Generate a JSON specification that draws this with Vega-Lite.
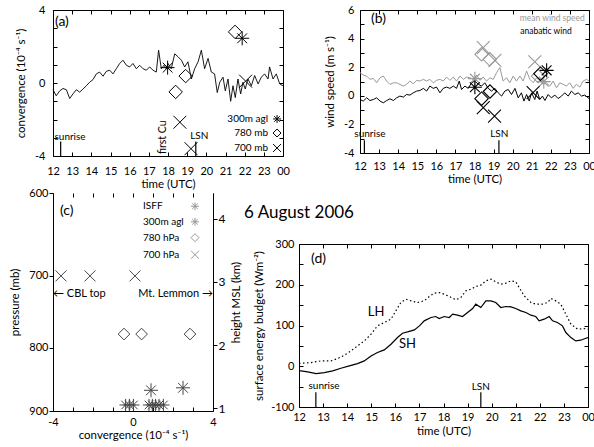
{
"$schema": "https://vega.github.io/schema/vega-lite/v6.json",
"padding": {"left": 9, "top": 3, "right": 0, "bottom": 0},
"spacing": -3,
"config": {
  "font": "Lato",
  "view": {"stroke": "black", "strokeWidth": 1},
  "axis": {"grid": false, "domain": false, "tickColor": "black", "tickSize": -4, "tickWidth": 1, "labelFont": "Lato", "labelFontSize": 11, "labelColor": "black", "labelOverlap": false, "labelFlush": false, "titleFont": "Lato", "titleFontSize": 11.5, "titleFontWeight": "normal", "titleColor": "black", "labelPadding": 12, "titlePadding": 4},
  "text": {"font": "Lato"},
  "title": {"font": "Lato", "fontWeight": "normal", "color": "black"}
},
"datasets": {
  "a_line": [
    {"t":12.0,"v":-0.37},{"t":12.17,"v":-0.7},{"t":12.35,"v":-0.43},{"t":12.52,"v":-0.3},{"t":12.7,"v":-0.37},{"t":12.87,"v":-0.85},{"t":13.04,"v":-0.6},{"t":13.22,"v":-0.37},{"t":13.39,"v":-0.5},{"t":13.57,"v":-0.33},{"t":13.74,"v":-0.15},{"t":13.91,"v":0.04},{"t":14.09,"v":0.19},{"t":14.26,"v":0.5},{"t":14.43,"v":0.6},{"t":14.61,"v":0.37},{"t":14.78,"v":0.64},{"t":14.96,"v":0.7},{"t":15.13,"v":0.5},{"t":15.3,"v":0.78},{"t":15.48,"v":1.07},{"t":15.65,"v":1.25},{"t":15.83,"v":0.97},{"t":16.0,"v":0.88},{"t":16.17,"v":1.07},{"t":16.35,"v":0.78},{"t":16.52,"v":0.97},{"t":16.7,"v":0.78},{"t":16.87,"v":0.7},{"t":17.04,"v":0.88},{"t":17.22,"v":0.7},{"t":17.39,"v":0.6},{"t":17.51,"v":1.8},{"t":17.65,"v":0.78},{"t":17.79,"v":0.97},{"t":17.91,"v":0.78},{"t":18.0,"v":1.07},{"t":18.17,"v":0.78},{"t":18.35,"v":1.6},{"t":18.52,"v":1.44},{"t":18.7,"v":1.25},{"t":18.87,"v":0.88},{"t":19.04,"v":1.16},{"t":19.22,"v":0.22},{"t":19.39,"v":0.78},{"t":19.57,"v":1.16},{"t":19.74,"v":1.8},{"t":19.91,"v":0.78},{"t":20.09,"v":1.35},{"t":20.26,"v":0.6},{"t":20.43,"v":0.5},{"t":20.57,"v":-0.52},{"t":20.7,"v":0.04},{"t":20.87,"v":0.32},{"t":20.99,"v":-0.43},{"t":21.13,"v":0.22},{"t":21.27,"v":-1.0},{"t":21.39,"v":-0.15},{"t":21.51,"v":-0.8},{"t":21.65,"v":0.22},{"t":21.79,"v":-0.6},{"t":21.91,"v":0.04},{"t":22.03,"v":-0.33},{"t":22.17,"v":0.22},{"t":22.35,"v":-0.15},{"t":22.52,"v":0.41},{"t":22.7,"v":-0.05},{"t":22.87,"v":0.32},{"t":23.04,"v":0.5},{"t":23.22,"v":0.22},{"t":23.3,"v":0.88},{"t":23.48,"v":0.22},{"t":23.65,"v":0.5},{"t":23.83,"v":-0.05},{"t":24.0,"v":-0.15}
  ],
  "a_markers": [
    {"t":17.98,"v":0.84,"level":"300m agl"},{"t":21.87,"v":2.45,"level":"300m agl"},
    {"t":18.4,"v":-0.49,"level":"780 mb"},{"t":18.92,"v":0.38,"level":"780 mb"},{"t":21.5,"v":2.8,"level":"780 mb"},
    {"t":18.62,"v":-2.15,"level":"700 mb"},{"t":19.2,"v":-3.6,"level":"700 mb"},{"t":22.05,"v":0.1,"level":"700 mb"}
  ],
  "b_mean": [
    {"t":12.0,"v":1.62},{"t":12.17,"v":1.45},{"t":12.35,"v":1.38},{"t":12.52,"v":1.15},{"t":12.7,"v":1.22},{"t":12.87,"v":0.91},{"t":13.05,"v":1.26},{"t":13.22,"v":1.38},{"t":13.4,"v":1.03},{"t":13.57,"v":0.8},{"t":13.75,"v":0.91},{"t":13.92,"v":0.91},{"t":14.09,"v":0.8},{"t":14.27,"v":0.68},{"t":14.44,"v":0.8},{"t":14.62,"v":1.03},{"t":14.79,"v":0.84},{"t":14.97,"v":1.08},{"t":15.14,"v":1.03},{"t":15.32,"v":1.15},{"t":15.49,"v":1.03},{"t":15.66,"v":1.15},{"t":15.84,"v":0.91},{"t":16.01,"v":1.08},{"t":16.19,"v":1.15},{"t":16.36,"v":1.03},{"t":16.54,"v":1.31},{"t":16.71,"v":1.08},{"t":16.89,"v":1.31},{"t":17.06,"v":1.03},{"t":17.24,"v":1.38},{"t":17.41,"v":1.15},{"t":17.58,"v":1.31},{"t":17.76,"v":1.26},{"t":17.93,"v":1.15},{"t":18.11,"v":1.45},{"t":18.28,"v":1.08},{"t":18.46,"v":1.31},{"t":18.63,"v":1.03},{"t":18.81,"v":1.26},{"t":18.98,"v":1.15},{"t":19.16,"v":1.62},{"t":19.33,"v":1.97},{"t":19.5,"v":1.03},{"t":19.68,"v":1.26},{"t":19.85,"v":0.91},{"t":20.03,"v":1.38},{"t":20.2,"v":1.03},{"t":20.38,"v":1.38},{"t":20.55,"v":1.03},{"t":20.73,"v":1.73},{"t":20.9,"v":1.15},{"t":21.08,"v":0.91},{"t":21.25,"v":1.26},{"t":21.42,"v":1.03},{"t":21.6,"v":0.8},{"t":21.77,"v":0.91},{"t":21.95,"v":0.68},{"t":22.12,"v":1.03},{"t":22.3,"v":0.56},{"t":22.47,"v":0.91},{"t":22.65,"v":0.8},{"t":22.82,"v":0.68},{"t":22.99,"v":0.91},{"t":23.17,"v":0.52},{"t":23.34,"v":0.8},{"t":23.52,"v":0.61},{"t":23.69,"v":1.03},{"t":23.87,"v":1.15},{"t":24.0,"v":1.03}
  ],
  "b_ana": [
    {"t":12.0,"v":-0.26},{"t":12.17,"v":-0.37},{"t":12.35,"v":-0.14},{"t":12.52,"v":-0.33},{"t":12.7,"v":-0.26},{"t":12.87,"v":-0.14},{"t":13.05,"v":-0.37},{"t":13.22,"v":-0.49},{"t":13.4,"v":-0.33},{"t":13.57,"v":-0.21},{"t":13.75,"v":-0.33},{"t":13.92,"v":-0.14},{"t":14.09,"v":-0.02},{"t":14.27,"v":-0.09},{"t":14.44,"v":0.09},{"t":14.62,"v":0.05},{"t":14.79,"v":0.21},{"t":14.97,"v":0.33},{"t":15.14,"v":0.37},{"t":15.32,"v":0.52},{"t":15.49,"v":0.33},{"t":15.66,"v":0.68},{"t":15.84,"v":0.52},{"t":16.01,"v":0.61},{"t":16.19,"v":0.21},{"t":16.36,"v":0.52},{"t":16.54,"v":0.61},{"t":16.71,"v":0.52},{"t":16.89,"v":0.68},{"t":17.06,"v":0.52},{"t":17.2,"v":1.03},{"t":17.32,"v":0.44},{"t":17.5,"v":0.68},{"t":17.67,"v":0.52},{"t":17.85,"v":0.91},{"t":18.02,"v":1.03},{"t":18.2,"v":0.8},{"t":18.37,"v":0.68},{"t":18.54,"v":0.91},{"t":18.72,"v":0.52},{"t":18.89,"v":0.33},{"t":19.07,"v":0.52},{"t":19.24,"v":0.21},{"t":19.42,"v":-0.02},{"t":19.59,"v":0.33},{"t":19.77,"v":0.44},{"t":19.94,"v":0.09},{"t":20.12,"v":0.52},{"t":20.29,"v":-0.14},{"t":20.46,"v":0.21},{"t":20.59,"v":-0.37},{"t":20.73,"v":0.09},{"t":20.87,"v":-0.37},{"t":20.99,"v":0.21},{"t":21.16,"v":-0.26},{"t":21.28,"v":0.33},{"t":21.42,"v":-0.26},{"t":21.56,"v":-0.02},{"t":21.69,"v":-0.33},{"t":21.86,"v":0.09},{"t":22.03,"v":-0.14},{"t":22.21,"v":0.05},{"t":22.38,"v":-0.19},{"t":22.56,"v":-0.02},{"t":22.73,"v":0.21},{"t":22.91,"v":-0.02},{"t":23.08,"v":0.33},{"t":23.26,"v":0.09},{"t":23.43,"v":0.21},{"t":23.61,"v":-0.02},{"t":23.78,"v":0.05},{"t":24.0,"v":-0.19}
  ],
  "b_markers": [
    {"t":18.02,"v":1.2,"level":"300m agl","series":"mean wind speed"},{"t":21.63,"v":0.99,"level":"300m agl","series":"mean wind speed"},
    {"t":18.37,"v":2.9,"level":"780 mb","series":"mean wind speed"},{"t":18.8,"v":2.55,"level":"780 mb","series":"mean wind speed"},{"t":21.33,"v":1.38,"level":"780 mb","series":"mean wind speed"},
    {"t":18.46,"v":3.37,"level":"700 mb","series":"mean wind speed"},{"t":19.07,"v":2.48,"level":"700 mb","series":"mean wind speed"},{"t":21.16,"v":2.38,"level":"700 mb","series":"mean wind speed"},
    {"t":18.02,"v":0.6,"level":"300m agl","series":"anabatic wind"},{"t":21.78,"v":1.78,"level":"300m agl","series":"anabatic wind"},
    {"t":18.37,"v":-0.2,"level":"780 mb","series":"anabatic wind"},{"t":18.81,"v":0.3,"level":"780 mb","series":"anabatic wind"},{"t":21.46,"v":1.55,"level":"780 mb","series":"anabatic wind"},
    {"t":18.46,"v":-0.83,"level":"700 mb","series":"anabatic wind"},{"t":19.05,"v":-1.42,"level":"700 mb","series":"anabatic wind"},{"t":21.07,"v":0.22,"level":"700 mb","series":"anabatic wind"}
  ],
  "c_points": [
    {"conv":-3.6,"p":700,"level":"700 hPa"},{"conv":-2.15,"p":700,"level":"700 hPa"},{"conv":0.1,"p":700,"level":"700 hPa"},
    {"conv":-0.45,"p":780,"level":"780 hPa"},{"conv":0.43,"p":780,"level":"780 hPa"},{"conv":2.85,"p":780,"level":"780 hPa"},
    {"conv":0.9,"p":866,"level":"300m agl"},{"conv":2.5,"p":862,"level":"300m agl"},
    {"conv":-0.37,"p":890,"level":"ISFF"},{"conv":-0.18,"p":890,"level":"ISFF"},{"conv":0.02,"p":890,"level":"ISFF"},{"conv":0.8,"p":890,"level":"ISFF"},{"conv":0.97,"p":890,"level":"ISFF"},{"conv":1.13,"p":890,"level":"ISFF"},{"conv":1.3,"p":890,"level":"ISFF"},{"conv":1.52,"p":890,"level":"ISFF"}
  ],
  "c_legend": [
    {"conv":0.5,"p":615,"level":"ISFF"},{"conv":0.5,"p":633,"level":"300m agl"},{"conv":0.5,"p":652,"level":"780 hPa"},{"conv":0.5,"p":673,"level":"700 hPa"}
  ],
  "d_sh": [
    {"t":12.0,"v":-11},{"t":12.08,"v":-11.5},{"t":12.36,"v":-13.9},{"t":12.71,"v":-18},{"t":13.05,"v":-15.6},{"t":13.4,"v":-11.5},{"t":13.74,"v":-4.9},{"t":14.09,"v":0.8},{"t":14.43,"v":6.6},{"t":14.71,"v":13.1},{"t":14.99,"v":25.4},{"t":15.26,"v":33.6},{"t":15.54,"v":40.1},{"t":15.82,"v":54.1},{"t":16.09,"v":70.4},{"t":16.3,"v":81.1},{"t":16.51,"v":84.4},{"t":16.79,"v":89.3},{"t":17.0,"v":99.1},{"t":17.2,"v":111.4},{"t":17.48,"v":119.6},{"t":17.68,"v":122},{"t":17.82,"v":117.1},{"t":18.03,"v":122},{"t":18.24,"v":119.6},{"t":18.38,"v":127.8},{"t":18.58,"v":125.3},{"t":18.79,"v":122},{"t":19.0,"v":131.9},{"t":19.21,"v":141.7},{"t":19.34,"v":152.3},{"t":19.55,"v":144.1},{"t":19.76,"v":160.5},{"t":19.97,"v":160.5},{"t":20.17,"v":156.4},{"t":20.38,"v":144.1},{"t":20.59,"v":146.6},{"t":20.8,"v":145.8},{"t":21.0,"v":141.7},{"t":21.21,"v":136},{"t":21.42,"v":131.9},{"t":21.63,"v":125.3},{"t":21.83,"v":122},{"t":21.97,"v":111.4},{"t":22.18,"v":115.5},{"t":22.39,"v":122},{"t":22.53,"v":111.4},{"t":22.73,"v":107.3},{"t":22.94,"v":99.1},{"t":23.08,"v":82.7},{"t":23.29,"v":70.4},{"t":23.49,"v":62.2},{"t":23.7,"v":63.9},{"t":23.91,"v":68.8},{"t":24.0,"v":70.4}
  ],
  "d_lh": [
    {"t":12.0,"v":7},{"t":12.08,"v":7.4},{"t":12.5,"v":9},{"t":12.91,"v":13.1},{"t":13.33,"v":13.1},{"t":13.6,"v":18.8},{"t":13.88,"v":27},{"t":14.16,"v":37.7},{"t":14.43,"v":50},{"t":14.71,"v":62.2},{"t":14.99,"v":78.6},{"t":15.26,"v":99.1},{"t":15.54,"v":107.3},{"t":15.82,"v":115.5},{"t":16.02,"v":136},{"t":16.23,"v":156.4},{"t":16.44,"v":164.6},{"t":16.65,"v":160.5},{"t":16.92,"v":156.4},{"t":17.2,"v":160.5},{"t":17.41,"v":171.2},{"t":17.62,"v":179.4},{"t":17.82,"v":181},{"t":18.03,"v":176.9},{"t":18.24,"v":171.2},{"t":18.51,"v":163},{"t":18.72,"v":168.7},{"t":18.93,"v":185.1},{"t":19.14,"v":189.2},{"t":19.34,"v":195.7},{"t":19.55,"v":199},{"t":19.76,"v":209.7},{"t":19.97,"v":213.8},{"t":20.17,"v":207.2},{"t":20.38,"v":201.5},{"t":20.59,"v":203.9},{"t":20.8,"v":209.7},{"t":21.0,"v":207.2},{"t":21.14,"v":193.3},{"t":21.35,"v":172.8},{"t":21.63,"v":156.4},{"t":21.83,"v":152.3},{"t":22.11,"v":152.3},{"t":22.32,"v":156.4},{"t":22.46,"v":166.3},{"t":22.66,"v":160.5},{"t":22.87,"v":152.3},{"t":23.08,"v":127.8},{"t":23.29,"v":103.2},{"t":23.57,"v":90.9},{"t":23.84,"v":92.5},{"t":24.0,"v":90.9}
  ]
},
"vconcat": [
 {"hconcat": [
  {
   "width": 230, "height": 146,
   "resolve": {"axis": {"x": "independent", "y": "independent"}},
   "layer": [
    {"layer": [
     {"mark": {"type": "rule", "color": "#888", "strokeWidth": 1}, "encoding": {"y": {"datum": 0}}},
     {"data": {"name": "a_line"}, "mark": {"type": "line", "color": "black", "strokeWidth": 0.9},
      "encoding": {
       "x": {"field": "t", "type": "quantitative", "scale": {"domain": [12, 24], "nice": false, "zero": false},
             "axis": {"title": "time (UTC)", "tickCount": 12, "labelExpr": "datum.value == 24 ? '00' : datum.label", "labelOverlap": false, "labelFlush": false, "labelPadding": 13, "titlePadding": 2}},
       "y": {"field": "v", "type": "quantitative", "scale": {"domain": [-4, 4], "nice": false, "zero": false},
             "axis": {"title": "convergence (10⁻⁴ s⁻¹)", "tickCount": 8, "labelExpr": "datum.value % 4 == 0 ? replace(datum.label, '−', '-') : ''", "labelOverlap": false, "labelFlush": false, "labelPadding": 12, "titlePadding": 8}}
      }},
     {"mark": {"type": "rule", "color": "black", "strokeWidth": 1.6, "strokeDash": [5, 3]}, "encoding": {"x": {"datum": 18.05}}},
     {"data": {"values": [{"t": 12.4, "v1": -3.2, "v2": -4}, {"t": 19.45, "v1": -3.2, "v2": -4}]},
      "mark": {"type": "rule", "color": "black", "strokeWidth": 1.2},
      "encoding": {"x": {"field": "t", "type": "quantitative"}, "y": {"field": "v1", "type": "quantitative"}, "y2": {"field": "v2"}}},
     {"data": {"values": [{"t": 12.89, "v": -2.96, "label": "sunrise"}, {"t": 19.63, "v": -2.9, "label": "LSN"}]},
      "mark": {"type": "text", "fontSize": 10, "align": "center", "baseline": "middle"},
      "encoding": {"x": {"field": "t", "type": "quantitative"}, "y": {"field": "v", "type": "quantitative"}, "text": {"field": "label"}}},
     {"data": {"values": [{"t": 17.76, "v": -2.97, "label": "first Cu"}]},
      "mark": {"type": "text", "fontSize": 10.5, "align": "center", "baseline": "middle", "angle": 270},
      "encoding": {"x": {"field": "t", "type": "quantitative"}, "y": {"field": "v", "type": "quantitative"}, "text": {"field": "label"}}},
     {"data": {"values": [{"t": 12.1, "v": 3.34, "label": "(a)"}]},
      "mark": {"type": "text", "fontSize": 14, "align": "left", "baseline": "middle"},
      "encoding": {"x": {"field": "t", "type": "quantitative"}, "y": {"field": "v", "type": "quantitative"}, "text": {"field": "label"}}},
     {"data": {"name": "a_markers"},
      "mark": {"type": "point", "filled": false, "strokeWidth": 1, "color": "black", "opacity": 1},
      "encoding": {"x": {"field": "t", "type": "quantitative"}, "y": {"field": "v", "type": "quantitative"},
       "shape": {"field": "level", "type": "nominal", "scale": {"domain": ["300m agl", "780 mb", "700 mb"], "range": ["M-1,0L1,0M0,-1L0,1M-0.7,-0.7L0.7,0.7M-0.7,0.7L0.7,-0.7", "diamond", "M-1,-1L1,1M-1,1L1,-1"]}, "legend": null},
       "size": {"field": "level", "type": "ordinal", "scale": {"domain": ["300m agl", "780 mb", "700 mb"], "range": [196, 121, 196]}, "legend": null}}},
     {"mark": {"type": "rect", "fill": "white", "stroke": "black", "strokeWidth": 1},
      "encoding": {"x": {"datum": 20.97}, "x2": {"datum": 24}, "y": {"datum": -4}, "y2": {"datum": -1.64}}},
     {"data": {"values": [{"t": 23.22, "v": -1.97, "level": "300m agl", "label": "300m agl"}, {"t": 23.22, "v": -2.74, "level": "780 mb", "label": "780 mb"}, {"t": 23.22, "v": -3.56, "level": "700 mb", "label": "700 mb"}]},
      "layer": [
       {"mark": {"type": "text", "fontSize": 10, "align": "right", "baseline": "middle"},
        "encoding": {"x": {"field": "t", "type": "quantitative"}, "y": {"field": "v", "type": "quantitative"}, "text": {"field": "label"}}},
       {"mark": {"type": "point", "filled": false, "strokeWidth": 1, "color": "black", "opacity": 1, "size": 64, "xOffset": 9},
        "encoding": {"x": {"field": "t", "type": "quantitative"}, "y": {"field": "v", "type": "quantitative"},
         "shape": {"field": "level", "type": "nominal", "legend": null}}}
      ]}
    ]},
    {"data": {"name": "a_line"}, "mark": {"type": "point", "opacity": 0},
     "encoding": {
      "x": {"field": "t", "type": "quantitative", "axis": {"orient": "top", "labels": false, "title": null, "tickCount": 12}},
      "y": {"field": "v", "type": "quantitative", "axis": {"orient": "right", "labels": false, "title": null, "tickCount": 8}}
     }}
   ]
  },
  {
   "width": 229, "height": 143,
   "resolve": {"axis": {"x": "independent", "y": "independent"}},
   "layer": [
    {"layer": [
     {"mark": {"type": "rule", "color": "#444", "strokeWidth": 1}, "encoding": {"y": {"datum": 0}}},
     {"data": {"name": "b_mean"}, "mark": {"type": "line", "color": "#999", "strokeWidth": 1},
      "encoding": {
       "x": {"field": "t", "type": "quantitative", "scale": {"domain": [12, 24], "nice": false, "zero": false},
             "axis": {"title": "time (UTC)", "tickCount": 12, "labelExpr": "datum.value == 24 ? '00' : datum.label", "labelOverlap": false, "labelFlush": false, "labelPadding": 11, "titlePadding": 2}},
       "y": {"field": "v", "type": "quantitative", "scale": {"domain": [-4, 6], "nice": false, "zero": false},
             "axis": {"title": "wind speed (m s⁻¹)", "tickCount": 10, "labelExpr": "datum.value % 2 == 0 ? replace(datum.label, '−', '-') : ''", "labelOverlap": false, "labelFlush": false, "labelPadding": 10, "titlePadding": 8}}
      }},
     {"data": {"name": "b_ana"}, "mark": {"type": "line", "color": "black", "strokeWidth": 1},
      "encoding": {"x": {"field": "t", "type": "quantitative"}, "y": {"field": "v", "type": "quantitative"}}},
     {"mark": {"type": "rule", "color": "black", "strokeWidth": 1.6, "strokeDash": [5, 3]}, "encoding": {"x": {"datum": 18.05}}},
     {"data": {"values": [{"t": 12.23, "v1": -3.1, "v2": -4}, {"t": 19.28, "v1": -3.1, "v2": -4}]},
      "mark": {"type": "rule", "color": "black", "strokeWidth": 1.2},
      "encoding": {"x": {"field": "t", "type": "quantitative"}, "y": {"field": "v1", "type": "quantitative"}, "y2": {"field": "v2"}}},
     {"data": {"values": [{"t": 12.52, "v": -2.67, "label": "sunrise"}, {"t": 19.3, "v": -2.67, "label": "LSN"}]},
      "mark": {"type": "text", "fontSize": 10, "align": "center", "baseline": "middle"},
      "encoding": {"x": {"field": "t", "type": "quantitative"}, "y": {"field": "v", "type": "quantitative"}, "text": {"field": "label"}}},
     {"data": {"values": [{"t": 12.58, "v": 5.35, "label": "(b)"}]},
      "mark": {"type": "text", "fontSize": 14, "align": "left", "baseline": "middle"},
      "encoding": {"x": {"field": "t", "type": "quantitative"}, "y": {"field": "v", "type": "quantitative"}, "text": {"field": "label"}}},
     {"data": {"values": [{"t": 23.78, "v": 5.44, "label": "mean wind speed"}]},
      "mark": {"type": "text", "fontSize": 8.5, "align": "right", "baseline": "middle", "color": "#999"},
      "encoding": {"x": {"field": "t", "type": "quantitative"}, "y": {"field": "v", "type": "quantitative"}, "text": {"field": "label"}}},
     {"data": {"values": [{"t": 23.1, "v": 4.55, "label": "anabatic wind"}]},
      "mark": {"type": "text", "fontSize": 8.5, "align": "right", "baseline": "middle", "color": "black"},
      "encoding": {"x": {"field": "t", "type": "quantitative"}, "y": {"field": "v", "type": "quantitative"}, "text": {"field": "label"}}},
     {"data": {"name": "b_markers"},
      "mark": {"type": "point", "filled": false, "strokeWidth": 1.1, "opacity": 1},
      "encoding": {"x": {"field": "t", "type": "quantitative"}, "y": {"field": "v", "type": "quantitative"},
       "color": {"field": "series", "type": "nominal", "scale": {"domain": ["mean wind speed", "anabatic wind"], "range": ["#999", "black"]}, "legend": null},
       "shape": {"field": "level", "type": "nominal", "scale": {"domain": ["300m agl", "780 mb", "700 mb"], "range": ["M-1,0L1,0M0,-1L0,1M-0.7,-0.7L0.7,0.7M-0.7,0.7L0.7,-0.7", "diamond", "M-1,-1L1,1M-1,1L1,-1"]}, "legend": null},
       "size": {"field": "level", "type": "ordinal", "scale": {"domain": ["300m agl", "780 mb", "700 mb"], "range": [170, 110, 170]}, "legend": null}}}
    ]},
    {"data": {"name": "b_ana"}, "mark": {"type": "point", "opacity": 0},
     "encoding": {
      "x": {"field": "t", "type": "quantitative", "axis": {"orient": "top", "labels": false, "title": null, "tickCount": 12}},
      "y": {"field": "v", "type": "quantitative", "axis": {"orient": "right", "labels": false, "title": null, "tickCount": 10}}
     }}
   ]
  }
 ], "spacing": 34},
 {"hconcat": [
  {
   "width": 160, "height": 218,
   "view": {"stroke": null},
   "resolve": {"scale": {"y": "independent"}, "axis": {"x": "independent"}},
   "layer": [
    {"layer": [
     {"mark": {"type": "rule", "color": "#999", "strokeWidth": 1}, "encoding": {"x": {"datum": 0}}},
     {"data": {"name": "c_points"},
      "mark": {"type": "point", "filled": false, "strokeWidth": 1, "color": "#444", "opacity": 1},
      "encoding": {
       "x": {"field": "conv", "type": "quantitative", "scale": {"domain": [-4, 4], "nice": false, "zero": false},
             "axis": {"title": "convergence (10⁻⁴ s⁻¹)", "tickCount": 8, "labelExpr": "datum.value % 4 == 0 ? replace(datum.label, '−', '-') : ''", "labelOverlap": false, "labelFlush": false, "domain": true, "domainColor": "black", "labelPadding": 9, "titlePadding": 2}},
       "y": {"field": "p", "type": "quantitative", "scale": {"type": "log", "domain": [600, 900], "reverse": true, "nice": false, "zero": false},
             "axis": {"title": "pressure (mb)", "values": [600, 700, 800, 900], "labelOverlap": false, "labelFlush": false, "domain": true, "domainColor": "black", "tickSize": 4, "labelPadding": 1, "titlePadding": 8}},
       "shape": {"field": "level", "type": "nominal", "scale": {"domain": ["ISFF", "300m agl", "780 hPa", "700 hPa"], "range": ["triangle-up", "M-1,0L1,0M0,-1L0,1M-0.7,-0.7L0.7,0.7M-0.7,0.7L0.7,-0.7", "diamond", "M-1,-1L1,1M-1,1L1,-1"]}, "legend": null},
       "size": {"field": "level", "type": "ordinal", "scale": {"domain": ["ISFF", "300m agl", "780 hPa", "700 hPa"], "range": [90, 110, 90, 100]}, "legend": null}
      }},
     {"data": {"name": "c_legend"},
      "layer": [
       {"mark": {"type": "text", "fontSize": 10, "align": "left", "baseline": "middle"},
        "encoding": {"x": {"field": "conv", "type": "quantitative"}, "y": {"field": "p", "type": "quantitative"}, "text": {"field": "level"}}},
       {"mark": {"type": "point", "filled": false, "strokeWidth": 1, "color": "#999", "opacity": 1, "size": 64, "xOffset": 52},
        "encoding": {"x": {"field": "conv", "type": "quantitative"}, "y": {"field": "p", "type": "quantitative"},
         "shape": {"field": "level", "type": "nominal", "legend": null}}}
      ]},
     {"data": {"values": [{"conv": -3.65, "p": 621, "label": "(c)"}]},
      "mark": {"type": "text", "fontSize": 14, "align": "left", "baseline": "middle"},
      "encoding": {"x": {"field": "conv", "type": "quantitative"}, "y": {"field": "p", "type": "quantitative"}, "text": {"field": "label"}}},
     {"data": {"values": [{"conv": -4, "p": 724, "label": "← CBL top"}]},
      "mark": {"type": "text", "fontSize": 11, "align": "left", "baseline": "middle"},
      "encoding": {"x": {"field": "conv", "type": "quantitative"}, "y": {"field": "p", "type": "quantitative"}, "text": {"field": "label"}}},
     {"data": {"values": [{"conv": 4, "p": 724, "label": "Mt. Lemmon →"}]},
      "mark": {"type": "text", "fontSize": 11, "align": "right", "baseline": "middle"},
      "encoding": {"x": {"field": "conv", "type": "quantitative"}, "y": {"field": "p", "type": "quantitative"}, "text": {"field": "label"}}}
    ]},
    {"data": {"name": "c_points"}, "mark": {"type": "point", "opacity": 0},
     "encoding": {
      "x": {"field": "conv", "type": "quantitative", "axis": {"orient": "top", "labels": false, "title": null, "tickCount": 8}}
     }},
    {"data": {"values": [{"km": 1}, {"km": 4}]}, "mark": {"type": "rule", "opacity": 0},
     "encoding": {
      "y": {"field": "km", "type": "quantitative", "scale": {"domain": [0.958, 4.406], "nice": false, "zero": false},
            "axis": {"orient": "right", "title": "height MSL (km)", "titleAngle": 270, "titleBaseline": "top", "values": [1, 2, 3, 4], "labelOverlap": false, "labelFlush": false, "domain": true, "domainColor": "black", "tickSize": 4, "labelPadding": 1, "labelFontSize": 12, "titlePadding": 6}}
     }}
   ]
  },
  {"vconcat": [
   {"width": 289, "height": 7, "view": {"stroke": null}, "data": {"values": [{}]}, "mark": {"type": "point", "opacity": 0}, "encoding": {}},
   {
    "width": 289, "height": 163,
    "title": {"text": "6 August 2006", "anchor": "start", "frame": "group", "dx": -55, "fontSize": 17, "offset": 16},
    "resolve": {"axis": {"x": "independent", "y": "independent"}},
    "layer": [
     {"layer": [
      {"mark": {"type": "rule", "color": "#888", "strokeWidth": 1}, "encoding": {"y": {"datum": 0}}},
      {"data": {"name": "d_lh"}, "mark": {"type": "line", "color": "black", "strokeWidth": 1.2, "strokeDash": [1.5, 2.5]},
       "encoding": {
        "x": {"field": "t", "type": "quantitative", "scale": {"domain": [12, 24], "nice": false, "zero": false},
              "axis": {"title": "time (UTC)", "tickCount": 12, "labelExpr": "datum.value == 24 ? '00' : datum.label", "labelOverlap": false, "labelFlush": false, "labelPadding": 8, "titlePadding": 3}},
        "y": {"field": "v", "type": "quantitative", "scale": {"domain": [-100, 300], "nice": false, "zero": false},
              "axis": {"title": "surface energy budget (Wm⁻²)", "tickCount": 8, "labelExpr": "datum.value % 100 == 0 ? replace(datum.label, '−', '-') : ''", "labelOverlap": false, "labelFlush": false, "labelPadding": 9, "titlePadding": 6}}
       }},
      {"data": {"name": "d_sh"}, "mark": {"type": "line", "color": "black", "strokeWidth": 1.2},
       "encoding": {"x": {"field": "t", "type": "quantitative"}, "y": {"field": "v", "type": "quantitative"}}},
      {"data": {"values": [{"t": 12.7, "v1": -64, "v2": -100}, {"t": 19.55, "v1": -64, "v2": -100}]},
       "mark": {"type": "rule", "color": "black", "strokeWidth": 1.2},
       "encoding": {"x": {"field": "t", "type": "quantitative"}, "y": {"field": "v1", "type": "quantitative"}, "y2": {"field": "v2"}}},
      {"data": {"values": [{"t": 13.04, "v": -49, "label": "sunrise"}, {"t": 19.55, "v": -52, "label": "LSN"}]},
       "mark": {"type": "text", "fontSize": 10, "align": "center", "baseline": "middle"},
       "encoding": {"x": {"field": "t", "type": "quantitative"}, "y": {"field": "v", "type": "quantitative"}, "text": {"field": "label"}}},
      {"data": {"values": [{"t": 15.2, "v": 133, "label": "LH"}, {"t": 16.5, "v": 54, "label": "SH"}]},
       "mark": {"type": "text", "fontSize": 13, "align": "center", "baseline": "middle"},
       "encoding": {"x": {"field": "t", "type": "quantitative"}, "y": {"field": "v", "type": "quantitative"}, "text": {"field": "label"}}},
      {"data": {"values": [{"t": 12.5, "v": 263, "label": "(d)"}]},
       "mark": {"type": "text", "fontSize": 14, "align": "left", "baseline": "middle"},
       "encoding": {"x": {"field": "t", "type": "quantitative"}, "y": {"field": "v", "type": "quantitative"}, "text": {"field": "label"}}}
     ]},
     {"data": {"name": "d_sh"}, "mark": {"type": "point", "opacity": 0},
      "encoding": {
       "x": {"field": "t", "type": "quantitative", "axis": {"orient": "top", "labels": false, "title": null, "tickCount": 12}},
       "y": {"field": "v", "type": "quantitative", "axis": {"orient": "right", "labels": false, "title": null, "tickCount": 8}}
      }}
    ]
   }
  ], "spacing": 3}
 ], "spacing": 0, "align": "none"}
]
}
